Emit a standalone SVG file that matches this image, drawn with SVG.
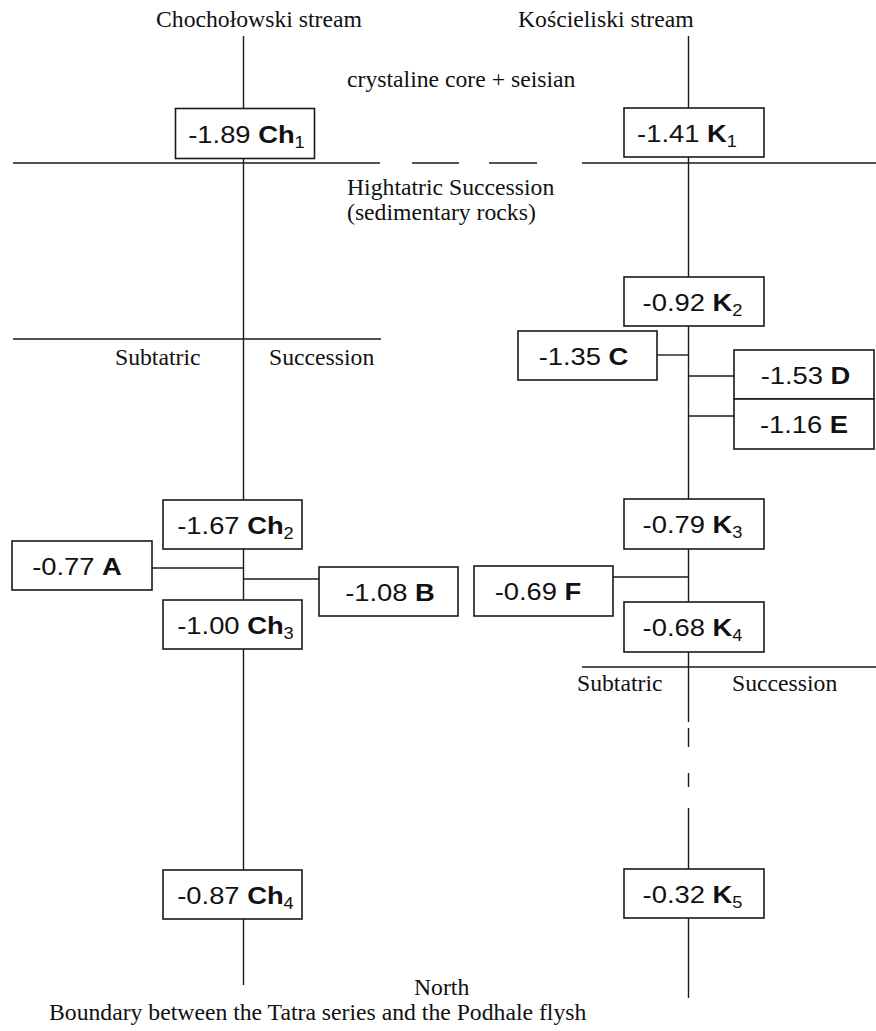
<svg xmlns="http://www.w3.org/2000/svg" width="876" height="1031" viewBox="0 0 876 1031">
<style>
.bg{fill:#fff}
.ln{stroke:#1a1a1a;stroke-width:1.4;fill:none}
.bx{fill:#fff;stroke:#1a1a1a;stroke-width:1.6}
.t{font-family:"Liberation Serif","Times New Roman",serif;font-size:23.7px;fill:#111}
.v{font-family:"Liberation Sans",Arial,Helvetica,sans-serif;font-size:24px;fill:#111;text-anchor:middle}
.b{font-weight:bold}
.s{font-size:16px}
</style>
<rect class="bg" x="0" y="0" width="876" height="1031"/>
<g id="labels">
<text class="t" x="156" y="27">Chochołowski stream</text>
<text class="t" x="518" y="27">Kościeliski stream</text>
<text class="t" x="347" y="87">crystaline core + seisian</text>
<text class="t" x="347" y="195">Hightatric Succession</text>
<text class="t" x="347" y="220">(sedimentary rocks)</text>
<text class="t" x="115" y="365">Subtatric</text>
<text class="t" x="269" y="365">Succession</text>
<text class="t" x="577" y="691">Subtatric</text>
<text class="t" x="732" y="691">Succession</text>
<text class="t" x="414" y="995">North</text>
<text class="t" x="49" y="1020">Boundary between the Tatra series and the Podhale flysh</text>
</g>
<g id="connectors">
<line class="ln" x1="243.5" y1="36" x2="243.5" y2="985"/>
<line class="ln" x1="688.5" y1="36" x2="688.5" y2="722"/>
<line class="ln" x1="688.5" y1="728" x2="688.5" y2="747"/>
<line class="ln" x1="688.5" y1="773" x2="688.5" y2="787"/>
<line class="ln" x1="688.5" y1="808" x2="688.5" y2="998"/>
<line class="ln" x1="13" y1="163" x2="380" y2="163"/>
<line class="ln" x1="412" y1="163" x2="459" y2="163"/>
<line class="ln" x1="489" y1="163" x2="537" y2="163"/>
<line class="ln" x1="582" y1="163" x2="876" y2="163"/>
<line class="ln" x1="13" y1="339" x2="381" y2="339"/>
<line class="ln" x1="582" y1="667" x2="876" y2="667"/>
<line class="ln" x1="152" y1="568" x2="243.5" y2="568"/>
<line class="ln" x1="243.5" y1="579" x2="319" y2="579"/>
<line class="ln" x1="657" y1="355" x2="688.5" y2="355"/>
<line class="ln" x1="688.5" y1="376" x2="734" y2="376"/>
<line class="ln" x1="688.5" y1="416" x2="734" y2="416"/>
<line class="ln" x1="613" y1="577" x2="688.5" y2="577"/>
</g>
<g id="Ch1"><rect class="bx" x="175.5" y="108.5" width="139" height="50"/><text class="v" transform="translate(246.5,142.5) scale(1.14,1)">-1.89 <tspan class="b">Ch</tspan><tspan class="s" dy="5">1</tspan></text></g>
<g id="K1"><rect class="bx" x="624" y="108" width="140" height="49"/><text class="v" transform="translate(687,141.5) scale(1.14,1)">-1.41 <tspan class="b">K</tspan><tspan class="s" dy="5">1</tspan></text></g>
<g id="K2"><rect class="bx" x="624" y="277" width="140" height="49"/><text class="v" transform="translate(692.5,310.5) scale(1.14,1)">-0.92 <tspan class="b">K</tspan><tspan class="s" dy="5">2</tspan></text></g>
<g id="C"><rect class="bx" x="518" y="331" width="139" height="49"/><text class="v" transform="translate(583.5,364.5) scale(1.14,1)">-1.35 <tspan class="b">C</tspan></text></g>
<g id="D"><rect class="bx" x="734" y="350" width="140" height="49"/><text class="v" transform="translate(805.5,383.5) scale(1.14,1)">-1.53 <tspan class="b">D</tspan></text></g>
<g id="E"><rect class="bx" x="734" y="399" width="140" height="50"/><text class="v" transform="translate(804,433) scale(1.14,1)">-1.16 <tspan class="b">E</tspan></text></g>
<g id="K3"><rect class="bx" x="624" y="499" width="140" height="50"/><text class="v" transform="translate(692.5,533) scale(1.14,1)">-0.79 <tspan class="b">K</tspan><tspan class="s" dy="5">3</tspan></text></g>
<g id="Ch2"><rect class="bx" x="163" y="500" width="139" height="49"/><text class="v" transform="translate(235.5,533.5) scale(1.14,1)">-1.67 <tspan class="b">Ch</tspan><tspan class="s" dy="5">2</tspan></text></g>
<g id="A"><rect class="bx" x="12" y="541" width="140" height="49"/><text class="v" transform="translate(77,574.5) scale(1.14,1)">-0.77 <tspan class="b">A</tspan></text></g>
<g id="B"><rect class="bx" x="319" y="567" width="139" height="49"/><text class="v" transform="translate(390,600.5) scale(1.14,1)">-1.08 <tspan class="b">B</tspan></text></g>
<g id="F"><rect class="bx" x="474" y="566" width="139" height="50"/><text class="v" transform="translate(538,600) scale(1.14,1)">-0.69 <tspan class="b">F</tspan></text></g>
<g id="Ch3"><rect class="bx" x="163" y="600" width="139" height="49"/><text class="v" transform="translate(235.5,633.5) scale(1.14,1)">-1.00 <tspan class="b">Ch</tspan><tspan class="s" dy="5">3</tspan></text></g>
<g id="K4"><rect class="bx" x="624" y="602" width="140" height="50"/><text class="v" transform="translate(692.5,636) scale(1.14,1)">-0.68 <tspan class="b">K</tspan><tspan class="s" dy="5">4</tspan></text></g>
<g id="Ch4"><rect class="bx" x="163" y="870" width="139" height="49"/><text class="v" transform="translate(235.5,903.5) scale(1.14,1)">-0.87 <tspan class="b">Ch</tspan><tspan class="s" dy="5">4</tspan></text></g>
<g id="K5"><rect class="bx" x="624" y="869" width="140" height="49"/><text class="v" transform="translate(692.5,902.5) scale(1.14,1)">-0.32 <tspan class="b">K</tspan><tspan class="s" dy="5">5</tspan></text></g>
</svg>
